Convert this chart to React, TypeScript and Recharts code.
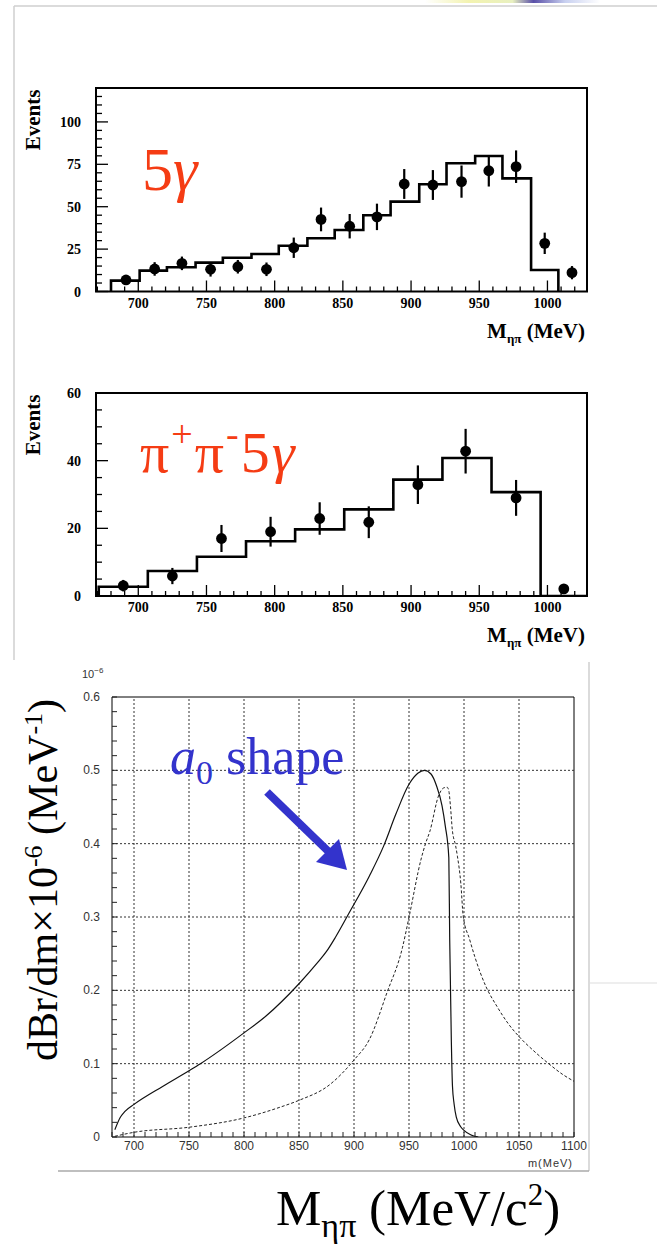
import React from "react";
import {
  ComposedChart,
  LineChart,
  Line,
  Scatter,
  ErrorBar,
  XAxis,
  YAxis,
  ReferenceArea,
  ReferenceLine,
} from "recharts";

const SERIF = "'Liberation Serif', 'Times New Roman', serif";
const SANS = "'Liberation Sans', Arial, sans-serif";
const RED = "#f53c14";
const BLUE = "#3333cc";

// ---------- Panel 1 : 5 gamma ----------
const p1BinEdges = [680, 701, 721, 742, 762, 783, 803, 824, 844, 865, 885, 906, 926, 947, 967, 988, 1008];
const p1BinCounts = [6.4, 12.3, 14.3, 17, 19.9, 22.1, 27, 31.4, 36.3, 45, 53, 63.2, 75.6, 79.9, 66.7, 12.7];
const p1PointMass = [691, 712, 732, 753, 773, 794, 814, 834, 855, 875, 895, 916, 937, 957, 977, 998, 1018];
const p1PointEvents = [6.8, 13.3, 16.6, 13.1, 14.6, 13.1, 25.8, 42.5, 38.5, 44, 63.4, 62.8, 64.8, 71.2, 73.6, 28.4, 11.1];
const p1PointErrors = [2.5, 4, 4, 4.3, 4, 4, 6, 7, 7.2, 7.8, 8.8, 8.8, 9.5, 9.3, 9.6, 6.3, 3.9];

// ---------- Panel 2 : pi+ pi- 5 gamma ----------
const p2BinEdges = [671, 707, 743, 779, 815, 851, 887, 923, 959, 995, 1029];
const p2BinCounts = [2.75, 7.4, 11.6, 16.2, 19.7, 25.6, 34.4, 40.8, 30.7, 0];
const p2PointMass = [689, 725, 761, 797, 833, 869, 905, 940, 977, 1012];
const p2PointEvents = [3.05, 5.9, 17, 19, 22.9, 21.8, 32.9, 42.8, 29, 2.1];
const p2PointErrors = [1.7, 2.4, 4, 4.4, 4.8, 4.7, 5.7, 6.6, 5.3, 0];

// ---------- Panel 3 : a0 shape ----------
const solidMass = [682.6, 687.2, 691.8, 700, 726, 750, 760.4, 800, 820, 850, 867, 875, 883, 895, 914, 927, 938, 950, 958, 964, 970, 975, 980, 983, 986.2, 987, 988.5, 989.5, 991, 993, 997, 1000, 1006, 1013];
const solidValue = [0.01, 0.026, 0.035, 0.0445, 0.069, 0.0904, 0.1, 0.142, 0.165, 0.209, 0.238, 0.253, 0.272, 0.304, 0.356, 0.397, 0.44, 0.481, 0.496, 0.5, 0.495, 0.479, 0.452, 0.424, 0.381, 0.27, 0.13, 0.07, 0.045, 0.027, 0.014, 0.009, 0.003, 0];
const dashedMass = [682.6, 700, 750, 800, 833.5, 850, 877.6, 900, 914, 930, 944, 950.2, 961, 965, 969, 976.8, 981.5, 984.6, 986.2, 987.7, 989.3, 992.4, 994, 997.1, 999.3, 1005, 1010, 1020, 1030, 1040, 1050, 1063, 1077, 1090, 1100];
const dashedValue = [0.001, 0.0064, 0.0133, 0.026, 0.041, 0.05, 0.071, 0.105, 0.133, 0.197, 0.258, 0.301, 0.379, 0.4, 0.417, 0.465, 0.476, 0.477, 0.472, 0.451, 0.42, 0.397, 0.383, 0.346, 0.301, 0.27, 0.245, 0.205, 0.178, 0.155, 0.137, 0.118, 0.1, 0.085, 0.076];

// ---------- tick lists ----------
const histXTicks = [670, 680, 690, 700, 710, 720, 730, 740, 750, 760, 770, 780, 790, 800, 810, 820, 830, 840, 850, 860, 870, 880, 890, 900, 910, 920, 930, 940, 950, 960, 970, 980, 990, 1000, 1010, 1020];
const p1YTicks = [0, 5, 10, 15, 20, 25, 30, 35, 40, 45, 50, 55, 60, 65, 70, 75, 80, 85, 90, 95, 100, 105, 110, 115, 120];
const p2YTicks = [0, 5, 10, 15, 20, 25, 30, 35, 40, 45, 50, 55, 60];
const p3XTicks = [680, 690, 700, 710, 720, 730, 740, 750, 760, 770, 780, 790, 800, 810, 820, 830, 840, 850, 860, 870, 880, 890, 900, 910, 920, 930, 940, 950, 960, 970, 980, 990, 1000, 1010, 1020, 1030, 1040, 1050, 1060, 1070, 1080, 1090, 1100];
const p3YTicks = Array.from({ length: 31 }, (_, i) => i / 50);
const p3GridX = [700, 750, 800, 850, 900, 950, 1000, 1050];
const p3GridY = [0.1, 0.2, 0.3, 0.4, 0.5];

// ---------- builders ----------
function makeSteps(edges: number[], counts: number[]) {
  const pts: { x: number; y: number }[] = [{ x: edges[0], y: 0 }];
  counts.forEach((c, i) => pts.push({ x: edges[i], y: c }));
  pts.push({ x: edges[edges.length - 1], y: 0 });
  return pts;
}
function makePoints(xs: number[], ys: number[], es: number[]) {
  return xs.map((x, i) => ({ x, y: ys[i], err: es[i] }));
}
function makeCurve(xs: number[], ys: number[]) {
  return xs.map((x, i) => ({ x, y: ys[i] }));
}

const p1Steps = makeSteps(p1BinEdges, p1BinCounts);
const p1Points = makePoints(p1PointMass, p1PointEvents, p1PointErrors);
const p2Steps = makeSteps(p2BinEdges, p2BinCounts);
const p2Points = makePoints(p2PointMass, p2PointEvents, p2PointErrors);
const solidCurve = makeCurve(solidMass, solidValue);
const dashedCurve = makeCurve(dashedMass, dashedValue);

// ---------- tick renderers ----------
function makeHistXTick() {
  return (props: any) => {
    const { x, y, payload } = props;
    const v = payload.value;
    const major = v % 50 === 0;
    return (
      <g>
        <line x1={x} x2={x} y1={y} y2={y - (major ? 11 : 5)} stroke="#000" strokeWidth={1.3} />
        {major ? (
          <text x={x} y={y + 16} textAnchor="middle" fontFamily={SERIF} fontWeight="bold" fontSize={14} fill="#000">
            {v}
          </text>
        ) : null}
      </g>
    );
  };
}
function makeHistYTick(majorEvery: number) {
  return (props: any) => {
    const { x, y, payload } = props;
    const v = payload.value;
    const major = v % majorEvery === 0;
    return (
      <g>
        <line x1={x} x2={x + (major ? 12 : 6)} y1={y} y2={y} stroke="#000" strokeWidth={1.3} />
        {major ? (
          <text x={x - 15} y={y + 5} textAnchor="end" fontFamily={SERIF} fontWeight="bold" fontSize={14} fill="#000">
            {v}
          </text>
        ) : null}
      </g>
    );
  };
}
const p3XTick = (props: any) => {
  const { x, y, payload } = props;
  const v = payload.value;
  const major = v % 50 === 0;
  return (
    <g>
      <line x1={x} x2={x} y1={y} y2={y - 5} stroke="#222" strokeWidth={1} />
      {major ? (
        <text x={x} y={y + 13} textAnchor="middle" fontFamily={SANS} fontSize={12} fill="#333">
          {v}
        </text>
      ) : null}
    </g>
  );
};
const p3YTick = (props: any) => {
  const { x, y, payload } = props;
  const v = payload.value;
  const idx = Math.round(v * 50);
  const major = idx % 5 === 0;
  return (
    <g>
      <line x1={x} x2={x + 5} y1={y} y2={y} stroke="#222" strokeWidth={1} />
      {major ? (
        <text x={x - 12} y={y + 4} textAnchor="end" fontFamily={SANS} fontSize={12} fill="#333">
          {idx === 0 ? "0" : (idx / 50).toFixed(1)}
        </text>
      ) : null}
    </g>
  );
};

const dot = (p: any) => <circle cx={p.cx} cy={p.cy} r={5.4} fill="#000" />;

function HistPanel(props: {
  top: number;
  height: number;
  margin: { top: number; right: number; bottom: number; left: number };
  steps: { x: number; y: number }[];
  points: { x: number; y: number; err: number }[];
  yMax: number;
  yTicks: number[];
  yMajor: number;
}) {
  const { top, height, margin, steps, points, yMax, yTicks, yMajor } = props;
  return (
    <div style={{ position: "absolute", left: 0, top, width: 657, height }}>
      <ComposedChart width={657} height={height} margin={margin}>
        <XAxis
          type="number"
          dataKey="x"
          domain={[669, 1029]}
          allowDataOverflow
          ticks={histXTicks}
          interval={0}
          tickSize={0}
          tickMargin={0}
          axisLine={false}
          tickLine={false}
          height={30}
          tick={makeHistXTick()}
        />
        <YAxis
          type="number"
          dataKey="y"
          domain={[0, yMax]}
          allowDataOverflow
          ticks={yTicks}
          interval={0}
          tickSize={0}
          tickMargin={0}
          axisLine={false}
          tickLine={false}
          width={56}
          tick={makeHistYTick(yMajor)}
        />
        <ReferenceArea x1={669} x2={1029} y1={0} y2={yMax} fill="none" stroke="#000" strokeWidth={2} ifOverflow="visible" />
        <Line data={steps} dataKey="y" type="stepAfter" stroke="#000" strokeWidth={2.6} dot={false} isAnimationActive={false} />
        <Scatter data={points} dataKey="y" fill="#000" shape={dot} isAnimationActive={false}>
          <ErrorBar dataKey="err" direction="y" width={0} stroke="#000" strokeWidth={2.2} />
        </Scatter>
      </ComposedChart>
    </div>
  );
}

export default function App() {
  return (
    <div style={{ position: "absolute", left: 0, top: 0, width: 657, height: 1260, background: "#fff", overflow: "hidden" }}>
      <HistPanel
        top={0}
        height={330}
        margin={{ top: 88, right: 70, bottom: 8.5, left: 40 }}
        steps={p1Steps}
        points={p1Points}
        yMax={120}
        yTicks={p1YTicks}
        yMajor={25}
      />
      <HistPanel
        top={330}
        height={300}
        margin={{ top: 63, right: 70, bottom: 4, left: 40 }}
        steps={p2Steps}
        points={p2Points}
        yMax={60}
        yTicks={p2YTicks}
        yMajor={20}
      />
      <div style={{ position: "absolute", left: 0, top: 640, width: 657, height: 540 }}>
        <LineChart width={657} height={540} margin={{ top: 57, right: 83, bottom: 13, left: 52 }}>
          <XAxis
            type="number"
            dataKey="x"
            domain={[680, 1100]}
            allowDataOverflow
            ticks={p3XTicks}
            interval={0}
            tickSize={0}
            tickMargin={0}
            axisLine={false}
            tickLine={false}
            height={30}
            tick={p3XTick}
          />
          <YAxis
            type="number"
            dataKey="y"
            domain={[0, 0.6]}
            allowDataOverflow
            ticks={p3YTicks}
            interval={0}
            tickSize={0}
            tickMargin={0}
            axisLine={false}
            tickLine={false}
            width={60}
            tick={p3YTick}
          />
          {p3GridX.map((v) => (
            <ReferenceLine key={"gx" + v} x={v} stroke="#333" strokeDasharray="2 2" strokeWidth={1} />
          ))}
          {p3GridY.map((v) => (
            <ReferenceLine key={"gy" + v} y={v} stroke="#333" strokeDasharray="2 2" strokeWidth={1} />
          ))}
          <ReferenceArea x1={680} x2={1100} y1={0} y2={0.6} fill="none" stroke="#000" strokeWidth={1} ifOverflow="visible" />
          <Line data={solidCurve} dataKey="y" type="monotone" stroke="#111" strokeWidth={1.2} dot={false} isAnimationActive={false} />
          <Line data={dashedCurve} dataKey="y" type="monotone" stroke="#222" strokeWidth={1} strokeDasharray="3 2" dot={false} isAnimationActive={false} />
        </LineChart>
      </div>

      <svg width={657} height={1260} style={{ position: "absolute", left: 0, top: 0, pointerEvents: "none" }}>
        <defs>
          <linearGradient id="topArtifact" x1="0" x2="1" y1="0" y2="0">
            <stop offset="0" stopColor="#ffffff" />
            <stop offset="0.25" stopColor="#f3f3b0" />
            <stop offset="0.5" stopColor="#e8f0c0" />
            <stop offset="0.62" stopColor="#5a50a8" />
            <stop offset="0.8" stopColor="#c8d0f0" />
            <stop offset="1" stopColor="#ffffff" />
          </linearGradient>
        </defs>
        <rect x={425} y={0} width={175} height={3} fill="url(#topArtifact)" />
        {/* page frame lines */}
        <line x1={14} y1={6} x2={657} y2={6} stroke="#cfcfcf" strokeWidth={1.5} />
        <line x1={14} y1={6} x2={14} y2={660} stroke="#cfcfcf" strokeWidth={1.5} />
        <line x1={589} y1={662} x2={589} y2={1171} stroke="#cfcfcf" strokeWidth={1.5} />
        <line x1={58} y1={1171} x2={589} y2={1171} stroke="#aaaaaa" strokeWidth={1.5} />
        <line x1={590} y1={983} x2={657} y2={983} stroke="#dddddd" strokeWidth={1.2} />

        {/* panel 1 texts */}
        <text transform="translate(40,120) rotate(-90)" textAnchor="middle" fontFamily={SERIF} fontWeight="bold" fontSize={21} fill="#000">
          Events
        </text>
        <text x={142} y={190} fontFamily={SERIF} fontSize={62} fill={RED}>
          5<tspan fontStyle="italic">γ</tspan>
        </text>
        <text x={585} y={338} textAnchor="end" fontFamily={SERIF} fontWeight="bold" fontSize={21} fill="#000">
          M<tspan fontSize={13} dy={5}>ηπ</tspan>
          <tspan dy={-5}> (MeV)</tspan>
        </text>

        {/* panel 2 texts */}
        <text transform="translate(40,425) rotate(-90)" textAnchor="middle" fontFamily={SERIF} fontWeight="bold" fontSize={21} fill="#000">
          Events
        </text>
        <text x={140} y={472} fontFamily={SERIF} fontSize={58} letterSpacing={2} fill={RED}>
          π<tspan fontSize={38} dy={-25}>+</tspan>
          <tspan fontSize={58} dy={25}>π</tspan>
          <tspan fontSize={38} dy={-25}>-</tspan>
          <tspan fontSize={58} dy={25}>5</tspan>
          <tspan fontSize={58} fontStyle="italic">γ</tspan>
        </text>
        <text x={585} y={642} textAnchor="end" fontFamily={SERIF} fontWeight="bold" fontSize={21} fill="#000">
          M<tspan fontSize={13} dy={5}>ηπ</tspan>
          <tspan dy={-5}> (MeV)</tspan>
        </text>

        {/* panel 3 texts */}
        <text x={82} y={678} fontFamily={SANS} fontSize={11} fill="#333">
          10<tspan fontSize={8} dy={-5}>−6</tspan>
        </text>
        <text x={573} y={1167} textAnchor="end" fontFamily={SANS} fontSize={11} letterSpacing={1} fill="#333">
          m(MeV)
        </text>
        <text transform="translate(57,880) rotate(-90)" textAnchor="middle" fontFamily={SERIF} fontSize={42} fill="#000">
          dBr/dm×10<tspan fontSize={26} dy={-15}>-6</tspan>
          <tspan fontSize={42} dy={15}> (MeV</tspan>
          <tspan fontSize={26} dy={-15}>-1</tspan>
          <tspan fontSize={42} dy={15}>)</tspan>
        </text>
        <text x={170} y={774} fontFamily={SERIF} fontSize={52} fill={BLUE}>
          <tspan fontStyle="italic">a</tspan>
          <tspan fontSize={34} dy={10}>0</tspan>
          <tspan fontSize={52} dy={-10}> shape</tspan>
        </text>
        <line x1={267} y1={792} x2={330} y2={853} stroke={BLUE} strokeWidth={8} />
        <polygon points="347,870 316,862 339,839" fill={BLUE} />

        {/* bottom title */}
        <text x={276} y={1225} fontFamily={SERIF} fontSize={51} fill="#000">
          M<tspan fontSize={34} dy={12}>ηπ</tspan>
          <tspan fontSize={51} dy={-12}> (MeV/c</tspan>
          <tspan fontSize={31} dy={-20}>2</tspan>
          <tspan fontSize={51} dy={20}>)</tspan>
        </text>
      </svg>
    </div>
  );
}
